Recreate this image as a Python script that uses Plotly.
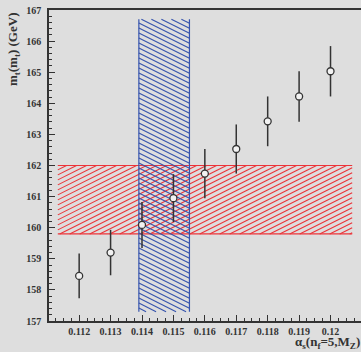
import numpy as np
import plotly.graph_objects as go

# ---- data ----
alpha_s = [0.112, 0.113, 0.114, 0.115, 0.116, 0.117, 0.118, 0.119, 0.120]
mt_values = [158.45, 159.20, 160.09, 160.95, 161.74, 162.53, 163.42, 164.22, 165.03]
mt_errors = [0.72, 0.73, 0.74, 0.77, 0.79, 0.79, 0.80, 0.81, 0.81]

# horizontal band (m_t range) and its alpha_s extent
mt_band = [159.8, 162.0]
mt_band_alpha_extent = [0.11132, 0.12069]
# vertical band (alpha_s range) and its m_t extent
alpha_band = [0.11390, 0.11551]
alpha_band_mt_extent = [157.3, 166.7]

x_ticks = [0.112, 0.113, 0.114, 0.115, 0.116, 0.117, 0.118, 0.119, 0.12]
x_tick_labels = ["0.112", "0.113", "0.114", "0.115", "0.116", "0.117", "0.118", "0.119", "0.12"]
y_ticks = [157, 158, 159, 160, 161, 162, 163, 164, 165, 166, 167]

# ---- style ----
W, H = 361, 352
MARGIN = dict(l=49, r=0, t=10, b=31)
X_RANGE = [0.11104, 0.12097]
Y_RANGE = [157, 167]
BG = "#dedede"
RED = "#ec3338"
BLUE = "#3553ad"
AX = "#333333"
FONT = "Liberation Serif"

# axis scale (pixels per data unit) used to lay out hatch lines at a fixed screen angle
sx = (W - MARGIN["l"] - MARGIN["r"]) / (X_RANGE[1] - X_RANGE[0])
sy = (H - MARGIN["t"] - MARGIN["b"]) / (Y_RANGE[1] - Y_RANGE[0])


def hatch(x0, x1, y0, y1, slope, spacing):
    """Parallel lines (slope in screen pixels) clipped to the data rectangle."""
    X0, X1, Y0, Y1 = x0 * sx, x1 * sx, y0 * sy, y1 * sy
    if slope > 0:
        cmin, cmax = Y0 - slope * X1, Y1 - slope * X0
    else:
        cmin, cmax = Y0 - slope * X0, Y1 - slope * X1
    xs, ys = [], []
    for c in np.arange(np.floor(cmin / spacing) * spacing, cmax + spacing, spacing):
        if slope > 0:
            lo, hi = max(X0, (Y0 - c) / slope), min(X1, (Y1 - c) / slope)
        else:
            lo, hi = max(X0, (Y1 - c) / slope), min(X1, (Y0 - c) / slope)
        if hi - lo > 1e-9:
            xs += [lo / sx, hi / sx, None]
            ys += [(slope * lo + c) / sy, (slope * hi + c) / sy, None]
    return xs, ys


fig = go.Figure()

# red hatched band
ax0, ax1 = mt_band_alpha_extent
hx, hy = hatch(ax0, ax1, mt_band[0], mt_band[1], 0.5, 5.0)
fig.add_trace(go.Scatter(x=hx, y=hy, mode="lines", line=dict(color=RED, width=1.1),
                         hoverinfo="skip", showlegend=False))
for yv in mt_band:
    fig.add_trace(go.Scatter(x=[ax0, ax1], y=[yv, yv], mode="lines",
                             line=dict(color=RED, width=1.2), hoverinfo="skip", showlegend=False))

# blue hatched band
my0, my1 = alpha_band_mt_extent
hx, hy = hatch(alpha_band[0], alpha_band[1], my0, my1, -0.5, 5.0)
fig.add_trace(go.Scatter(x=hx, y=hy, mode="lines", line=dict(color=BLUE, width=1.1),
                         hoverinfo="skip", showlegend=False))
for xv in alpha_band:
    fig.add_trace(go.Scatter(x=[xv, xv], y=[my0, my1], mode="lines",
                             line=dict(color=BLUE, width=1.2), hoverinfo="skip", showlegend=False))

# data points
fig.add_trace(go.Scatter(
    x=alpha_s, y=mt_values, mode="markers",
    error_y=dict(type="data", array=mt_errors, visible=True, color=AX, thickness=1.5, width=0),
    marker=dict(symbol="circle", size=7, color="#f2f2f2", line=dict(color=AX, width=1.3)),
    showlegend=False))

fig.update_layout(
    width=W, height=H,
    margin=MARGIN,
    paper_bgcolor=BG, plot_bgcolor=BG,
    font=dict(family=FONT, color=AX),
    xaxis=dict(range=X_RANGE, tickvals=x_ticks, ticktext=x_tick_labels,
               ticks="inside", ticklen=6, tickwidth=1, tickcolor=AX,
               minor=dict(dtick=0.00025, tick0=0.112, ticks="inside", ticklen=3, tickcolor=AX, tickwidth=1),
               showline=True, linecolor=AX, linewidth=1.5, mirror=True,
               showgrid=False, zeroline=False,
               tickfont=dict(family=FONT, size=10, weight="bold", color=AX)),
    yaxis=dict(range=Y_RANGE, tickvals=y_ticks,
               ticks="inside", ticklen=6, tickwidth=1, tickcolor=AX,
               minor=dict(dtick=0.2, tick0=157, ticks="inside", ticklen=3, tickcolor=AX, tickwidth=1),
               showline=True, linecolor=AX, linewidth=1.5,
               showgrid=False, zeroline=False, ticklabelstandoff=4,
               tickfont=dict(family=FONT, size=10, weight="bold", color=AX)),
)

fig.add_annotation(text="m<sub>t</sub>(m<sub>t</sub>) (GeV)", xref="paper", yref="paper",
                   x=-0.115, y=1.0, xanchor="center", yanchor="top", textangle=-90,
                   showarrow=False, font=dict(family=FONT, size=13, weight="bold", color=AX))
fig.add_annotation(text="α<sub>s</sub>(n<sub>f</sub>=5,M<sub>Z</sub>)", xref="paper", yref="paper",
                   x=1.0, y=-0.101, xanchor="right", yanchor="bottom", borderpad=0,
                   showarrow=False, font=dict(family=FONT, size=13, weight="bold", color=AX))

fig.write_html("out.html", config={"displayModeBar": False},
               post_script="document.body.style.margin='0';document.body.style.background='#dedede';")
